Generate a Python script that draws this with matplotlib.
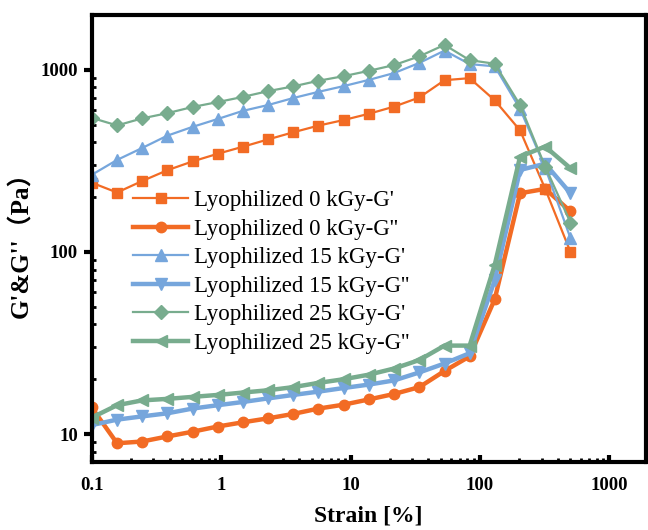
import matplotlib
matplotlib.use("Agg")
import matplotlib.pyplot as plt
from matplotlib.ticker import LogLocator, FixedLocator, FixedFormatter, NullFormatter

# ---- data ----
strain = [0.1, 0.157, 0.245, 0.384, 0.601, 0.941, 1.47, 2.31, 3.61, 5.65,
          8.85, 13.9, 21.7, 34.0, 53.2, 83.2, 130, 204, 319, 500]

g1_0 = [240, 212, 245, 281, 314, 346, 378, 415, 454, 494,
        530, 574, 628, 705, 877, 900, 680, 465, 222, 100]
g2_0 = [14.0, 8.9, 9.1, 9.7, 10.3, 11.0, 11.6, 12.2, 12.9, 13.8,
        14.5, 15.5, 16.6, 18.1, 22.2, 26.7, 55, 210, 222, 167]
g1_15 = [265, 320, 372, 435, 486, 537, 595, 641, 700, 757,
         814, 881, 960, 1091, 1275, 1075, 1045, 610, 290, 119]
g2_15 = [11.2, 12.0, 12.5, 13.0, 13.8, 14.4, 15.0, 15.7, 16.4, 17.1,
         17.9, 18.7, 19.7, 21.8, 24.4, 27.8, 70, 282, 305, 210]
g1_25 = [545, 495, 541, 578, 625, 665, 710, 764, 811, 871,
         923, 988, 1062, 1186, 1371, 1130, 1080, 640, 294, 145]
g2_25 = [12.3, 14.4, 15.3, 15.6, 16.0, 16.4, 16.9, 17.4, 18.1, 19.1,
         20.0, 21.2, 22.9, 25.5, 30.6, 30.6, 85, 334, 379, 288]

labels = ["Lyophilized 0 kGy-G'", "Lyophilized 0 kGy-G''",
          "Lyophilized 15 kGy-G'", "Lyophilized 15 kGy-G''",
          "Lyophilized 25 kGy-G'", "Lyophilized 25 kGy-G''"]

xticks = [0.1, 1, 10, 100, 1000]
xticklabels = ["0.1", "1", "10", "100", "1000"]
yticks = [10, 100, 1000]
yticklabels = ["10", "100", "1000"]

orange = "#F26B24"
blue = "#76A6DC"
green = "#78AC8E"

plt.rcParams['font.family'] = ['Liberation Serif', 'Noto Sans CJK SC']

fig = plt.figure(figsize=(6.48, 5.30), dpi=100)
ax = fig.add_axes([91.7/648, (530-461.7)/530, (645.5-91.7)/648, (461.7-15)/530])

series = [
    (g1_0, orange, 's', 1.6, 7.0),
    (g2_0, orange, 'o', 3.2, 7.5),
    (g1_15, blue, '^', 1.6, 8.0),
    (g2_15, blue, 'v', 3.2, 8.0),
    (g1_25, green, 'D', 1.6, 7.0),
    (g2_25, green, '<', 3.2, 8.0),
]
for (vals, c, m, lw, ms), lab in zip(series, labels):
    ax.plot(strain, vals, color=c, marker=m, lw=lw, ms=ms, mec=c, mfc=c, label=lab)

ax.set_xscale('log')
ax.set_yscale('log')
ax.set_xlim(0.1, 1900)
ax.set_ylim(7.05, 2000)

for s in ax.spines.values():
    s.set_linewidth(3.0)

ax.xaxis.set_major_locator(FixedLocator(xticks))
ax.xaxis.set_major_formatter(FixedFormatter(xticklabels))
ax.xaxis.set_minor_locator(LogLocator(base=10, subs=range(2, 10)))
ax.xaxis.set_minor_formatter(NullFormatter())
ax.yaxis.set_major_locator(FixedLocator(yticks))
ax.yaxis.set_major_formatter(FixedFormatter(yticklabels))
ax.yaxis.set_minor_locator(LogLocator(base=10, subs=range(2, 10)))
ax.yaxis.set_minor_formatter(NullFormatter())

ax.tick_params(axis='x', which='major', direction='in', length=5, width=3, pad=11)
ax.tick_params(axis='x', which='minor', direction='in', length=3, width=2)
ax.tick_params(axis='y', which='major', direction='out', length=6, width=3, pad=4)
ax.tick_params(axis='y', which='minor', direction='in', length=3, width=2)
for lbl in ax.get_xticklabels() + ax.get_yticklabels():
    lbl.set_fontweight('bold')
    lbl.set_fontsize(13.5)

ax.set_xlabel("Strain [%]", fontsize=17, fontweight='bold', labelpad=8)
ax.set_ylabel("G'&G''（Pa）", fontsize=18, fontweight='bold', labelpad=5)

leg = ax.legend(loc='upper left', bbox_to_anchor=(133/648, (530-190)/530),
                bbox_transform=fig.transFigure, frameon=False, fontsize=16.5,
                handlelength=2.4, handletextpad=0.25, labelspacing=0.33,
                borderpad=0, borderaxespad=0)

fig.savefig("out.png", dpi=100)
